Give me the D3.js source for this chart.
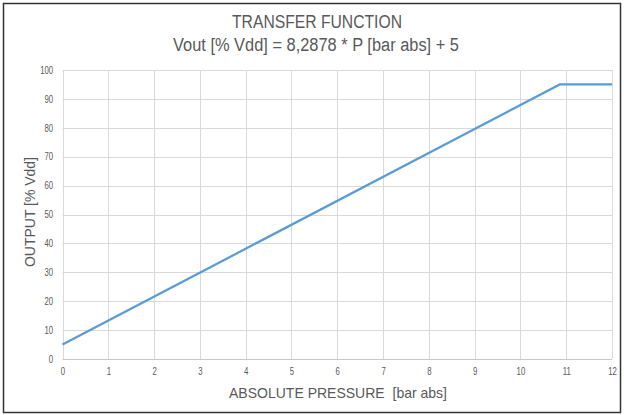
<!DOCTYPE html>
<html>
<head>
<meta charset="utf-8">
<script src="https://cdn.jsdelivr.net/npm/d3@7"></script>
<style>
  body { margin: 0; background: #fff; }
  text { font-family: "Liberation Sans", Arial, sans-serif; fill: #595959; }
</style>
</head>
<body>
<script>
var pressure = [0, 10.86, 12]
var output = [5, 95, 95]
var xTicks = [0, 1, 2, 3, 4, 5, 6, 7, 8, 9, 10, 11, 12]
var yTicks = [0, 10, 20, 30, 40, 50, 60, 70, 80, 90, 100]

var points = pressure.map(function(p, i) { return {p: p, v: output[i]} })

var svg = d3.select("body")
            .append("svg")
            .attr("width", 624)
            .attr("height", 415)

// outer frame
svg.append("rect")
   .attr("x", 3.5).attr("y", 3.5)
   .attr("width", 617).attr("height", 409)
   .attr("fill", "#fff")
   .attr("stroke", "#333")
   .attr("stroke-width", 1.5)

var x = d3.scaleLinear().domain([0, 12]).range([62.5, 612])
var y = d3.scaleLinear().domain([0, 100]).range([359, 70])

// gridlines
svg.selectAll("line.vgrid")
   .data(xTicks).enter()
   .append("line")
   .attr("x1", function(d) {return Math.round(x(d)) + 0.5})
   .attr("x2", function(d) {return Math.round(x(d)) + 0.5})
   .attr("y1", y(100)).attr("y2", y(0))
   .attr("stroke", "#d9d9d9")

svg.selectAll("line.hgrid")
   .data(yTicks).enter()
   .append("line")
   .attr("y1", function(d) {return Math.round(y(d)) + 0.5})
   .attr("y2", function(d) {return Math.round(y(d)) + 0.5})
   .attr("x1", x(0)).attr("x2", x(12))
   .attr("stroke", function(d) {return d == 0 ? "#c8c8c8" : "#d9d9d9"})

// tick labels through d3 axes
svg.append("g")
   .attr("transform", "translate(0," + y(0) + ")")
   .call(d3.axisBottom(x).tickValues(xTicks).tickSize(0).tickPadding(9).tickFormat(d3.format("d")))
svg.append("g")
   .attr("transform", "translate(" + x(0) + ",0)")
   .call(d3.axisLeft(y).tickValues(yTicks).tickSize(0).tickPadding(12).tickFormat(d3.format("d")))

svg.selectAll(".domain").remove()
// narrow the digits like the original condensed font
svg.selectAll(".tick text")
   .attr("font-size", "10px")
   .attr("font-family", null)
   .attr("fill", "#595959")
   .attr("transform", "scale(0.78,1)")

// the line
var line = d3.line()
   .x(function(d) {return x(d.p)})
   .y(function(d) {return y(d.v)})

svg.append("path")
   .datum(points)
   .attr("d", line)
   .attr("fill", "none")
   .attr("stroke", "#5b9bd5")
   .attr("stroke-width", 2.25)

// titles
svg.append("text")
   .attr("x", 232).attr("y", 28)
   .attr("font-size", "18px")
   .attr("textLength", 170)
   .attr("lengthAdjust", "spacingAndGlyphs")
   .text("TRANSFER FUNCTION")

svg.append("text")
   .attr("x", 173).attr("y", 51)
   .attr("font-size", "18px")
   .attr("textLength", 286)
   .attr("lengthAdjust", "spacingAndGlyphs")
   .text("Vout [% Vdd] = 8,2878 * P [bar abs] + 5")

svg.append("text")
   .attr("x", 229).attr("y", 398)
   .attr("font-size", "15px")
   .attr("xml:space", "preserve")
   .attr("textLength", 218)
   .attr("lengthAdjust", "spacingAndGlyphs")
   .text("ABSOLUTE PRESSURE  [bar abs]")

svg.append("text")
   .attr("transform", "translate(35,267) rotate(-90)")
   .attr("font-size", "15px")
   .attr("textLength", 110)
   .attr("lengthAdjust", "spacingAndGlyphs")
   .text("OUTPUT [% Vdd]")
</script>
</body>
</html>
